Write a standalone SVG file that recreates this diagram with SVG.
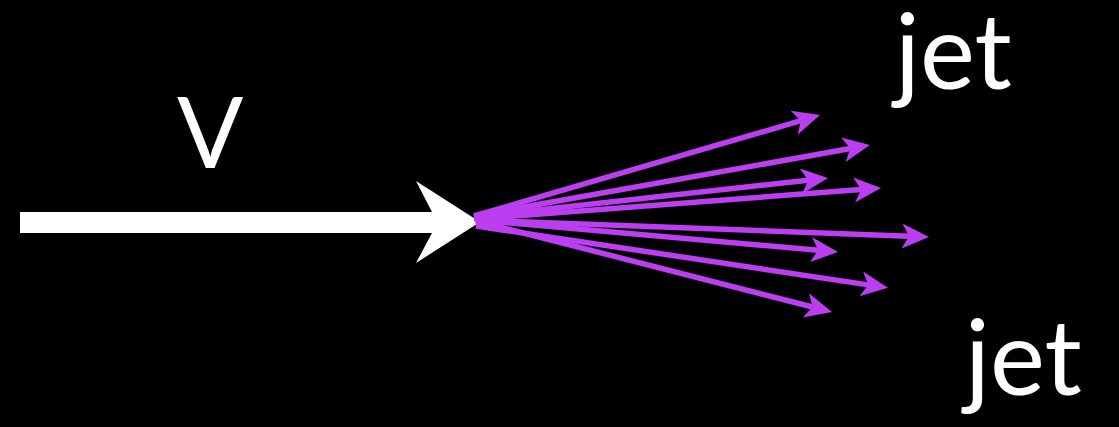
<svg xmlns="http://www.w3.org/2000/svg" width="1119" height="427" viewBox="0 0 1119 427">
<style>
.lbl{fill:#fff;font-family:Lato,"Open Sans","DejaVu Sans",sans-serif;}
.p{stroke:#bb3ef0;stroke-width:5.5;fill:none;marker-end:url(#ah);}
</style>
<defs>
<marker id="ah" markerUnits="userSpaceOnUse" orient="auto" refX="0" refY="0" markerWidth="40" markerHeight="30" overflow="visible">
<path d="M20,0 L-7,-12.5 L0,0 L-7,12.5 Z" fill="#bb3ef0"/>
</marker>
</defs>
<rect width="1119" height="427" fill="#000"/>
<g id="V">
<path d="M20,212 L432,212 L416,181 L480,222 L416,263 L432,233 L20,233 Z" fill="#fff"/>
<text class="lbl" x="177" y="168" font-size="98">V</text>
</g>
<g id="jet-top"><text class="lbl" x="895" y="89" font-size="104">jet</text></g>
<g id="jet-bottom"><text class="lbl" x="965" y="395" font-size="104">jet</text></g>
<g id="connectors">
<line class="p" x1="474" y1="216" x2="800.8" y2="120.7"/>
<line class="p" x1="474" y1="216" x2="850.3" y2="148.5"/>
<line class="p" x1="474" y1="217" x2="808.1" y2="180.2"/>
<line class="p" x1="474" y1="219" x2="861.1" y2="189.5"/>
<line class="p" x1="476" y1="220" x2="909" y2="236.2"/>
<line class="p" x1="476" y1="220" x2="818.1" y2="250.2"/>
<line class="p" x1="476" y1="226" x2="868.2" y2="284.9"/>
<line class="p" x1="476" y1="221" x2="812.6" y2="307"/>
</g>
</svg>
